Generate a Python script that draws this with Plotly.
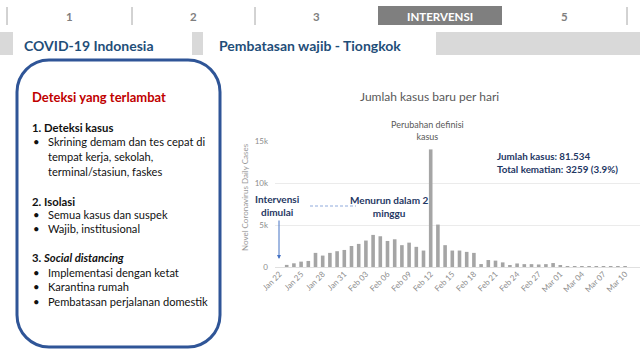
import plotly.graph_objects as go
import pandas as pd

# ---------------- data ----------------
start_date = "2020-01-23"
daily_cases = [250, 440, 640, 720, 1680, 1360, 1680, 1880, 2030, 2500,
               2750, 3150, 3820, 3660, 3100, 3300, 2600, 2900, 2400, 1960,
               14000, 5050, 2600, 1960, 1960, 1800, 1680, 350, 830, 760,
               550, 130, 420, 340, 340, 300, 340, 470, 160, 110,
               100, 110, 110, 80, 40, 40, 20, 20]
dates = pd.date_range(start_date, periods=len(daily_cases), freq="D")
y_tick_vals = [0, 5000, 10000, 15000]
y_tick_text = ["0", "5k", "10k", "15k"]
nav_labels = ["1", "2", "3", "INTERVENSI", "5"]
box_lines = [
    ("<b>1. Deteksi kasus</b>", False),
    ("Skrining demam dan tes cepat di", True),
    ("tempat kerja, sekolah,", None),
    ("terminal/stasiun, faskes", None),
    ("", None),
    ("<b>2. Isolasi</b>", False),
    ("Semua kasus dan suspek", True),
    ("Wajib, institusional", True),
    ("", None),
    ("<b>3. <i>Social distancing</i></b>", False),
    ("Implementasi dengan ketat", True),
    ("Karantina rumah", True),
    ("Pembatasan perjalanan domestik", True),
]

W, H = 640, 360
FONT = "Lato"


def px(x):
    return x / W


def py(y):
    return 1 - y / H


fig = go.Figure()
fig.add_trace(go.Bar(x=dates, y=daily_cases, marker_color="#a5a5a5",
                     marker_line_width=0, hoverinfo="x+y"))

shapes = []
annotations = []

# ---------------- top navigation ----------------
for sx in [7, 132, 255, 627]:
    shapes.append(dict(type="line", xref="paper", yref="paper",
                       x0=px(sx), x1=px(sx), y0=py(7), y1=py(25),
                       line=dict(color="#a6a6a6", width=1)))
shapes.append(dict(type="rect", xref="paper", yref="paper",
                   x0=px(378), x1=px(502), y0=py(25), y1=py(6),
                   fillcolor="#7f7f7f", line=dict(width=0)))
nav_x = [69, 193, 316, 440, 564]
for lab, nx in zip(nav_labels, nav_x):
    active = lab == "INTERVENSI"
    annotations.append(dict(
        xref="paper", yref="paper", x=px(nx), y=py(16.5), showarrow=False,
        xanchor="center", yanchor="middle",
        text=f"<b>{lab}</b>",
        font=dict(family=FONT, size=11.5,
                  color="white" if active else "#7f7f7f")))

# second row band
shapes.append(dict(type="rect", xref="paper", yref="paper",
                   x0=0, x1=1, y0=py(55), y1=py(32),
                   fillcolor="#d9d9d9", line=dict(width=0)))
for x0, x1 in [(13, 192), (203, 436)]:
    shapes.append(dict(type="rect", xref="paper", yref="paper",
                       x0=px(x0), x1=px(x1), y0=py(56), y1=py(32),
                       fillcolor="white", line=dict(width=0)))
annotations.append(dict(xref="paper", yref="paper", x=px(22), y=py(45),
                        showarrow=False, xanchor="left", yanchor="middle",
                        text="<b>COVID-19 Indonesia</b>",
                        font=dict(family=FONT, size=14, color="#1f4e79")))
annotations.append(dict(xref="paper", yref="paper", x=px(217), y=py(45),
                        showarrow=False, xanchor="left", yanchor="middle",
                        text="<b>Pembatasan wajib - Tiongkok</b>",
                        font=dict(family=FONT, size=14, color="#1f4e79")))

# ---------------- rounded box on left ----------------
L, R, T, B, r = 17, 220, 60, 347, 32
k = 0.5523 * r


def P(x, y):
    return f"{px(x):.5f},{py(y):.5f}"


path = (f"M {P(L + r, T)} L {P(R - r, T)} "
        f"C {P(R - r + k, T)} {P(R, T + r - k)} {P(R, T + r)} "
        f"L {P(R, B - r)} "
        f"C {P(R, B - r + k)} {P(R - r + k, B)} {P(R - r, B)} "
        f"L {P(L + r, B)} "
        f"C {P(L + r - k, B)} {P(L, B - r + k)} {P(L, B - r)} "
        f"L {P(L, T + r)} "
        f"C {P(L, T + r - k)} {P(L + r - k, T)} {P(L + r, T)} Z")
shapes.append(dict(type="path", xref="paper", yref="paper", path=path,
                   line=dict(color="#2f5597", width=3), fillcolor="white"))

annotations.append(dict(xref="paper", yref="paper", x=px(30), y=py(97),
                        showarrow=False, xanchor="left", yanchor="middle",
                        text="<b>Deteksi yang terlambat</b>",
                        font=dict(family=FONT, size=13, color="#c00000")))
line_y = [127, 142, 156, 171, 186, 201, 214, 228, 243, 257, 272, 286, 301]
for (txt, bullet), ly in zip(box_lines, line_y):
    if not txt:
        continue
    if bullet is False:
        annotations.append(dict(xref="paper", yref="paper", x=px(30), y=py(ly),
                                showarrow=False, xanchor="left", yanchor="middle",
                                text=txt, font=dict(family=FONT, size=11.3, color="#111111")))
    else:
        if bullet:
            annotations.append(dict(xref="paper", yref="paper", x=px(31), y=py(ly),
                                    showarrow=False, xanchor="left", yanchor="middle",
                                    text="•", font=dict(family=FONT, size=11.3, color="#111111")))
        annotations.append(dict(xref="paper", yref="paper", x=px(46), y=py(ly),
                                showarrow=False, xanchor="left", yanchor="middle",
                                text=txt, font=dict(family=FONT, size=11.1, color="#111111")))

# ---------------- chart annotations ----------------
annotations.append(dict(xref="paper", yref="paper", x=px(429), y=py(97),
                        showarrow=False, xanchor="center", yanchor="middle",
                        text="Jumlah kasus baru per hari",
                        font=dict(family=FONT, size=12, color="#595959")))
annotations.append(dict(xref="paper", yref="paper", x=px(427), y=py(130),
                        showarrow=False, xanchor="center", yanchor="middle",
                        text="Perubahan definisi<br>kasus",
                        font=dict(family=FONT, size=9, color="#595959")))
annotations.append(dict(xref="paper", yref="paper", x=px(245), y=py(197),
                        showarrow=False, xanchor="center", yanchor="middle",
                        textangle=-90, text="Novel Coronavirus Daily Cases",
                        font=dict(family=FONT, size=8, color="#9a9a9a")))
annotations.append(dict(xref="paper", yref="paper", x=px(277), y=py(205.5),
                        showarrow=False, xanchor="center", yanchor="middle",
                        text="<b>Intervensi<br>dimulai</b>",
                        font=dict(family=FONT, size=10, color="#1f3864")))
annotations.append(dict(xref="paper", yref="paper", x=px(389), y=py(207),
                        showarrow=False, xanchor="center", yanchor="middle",
                        text="<b>Menurun dalam 2<br>minggu</b>",
                        font=dict(family=FONT, size=10, color="#1f3864")))
annotations.append(dict(xref="paper", yref="paper", x=px(495), y=py(162.5),
                        showarrow=False, xanchor="left", yanchor="middle", align="left",
                        text="<b>Jumlah kasus: 81.534<br>Total kematian: 3259 (3.9%)</b>",
                        font=dict(family=FONT, size=9.8, color="#1f3864")))
# arrow
annotations.append(dict(xref="paper", yref="paper",
                        x=px(279), y=py(259), ax=0, ay=-40,
                        showarrow=True, arrowhead=2, arrowsize=0.8, arrowwidth=1,
                        arrowcolor="#4472c4", text=""))
shapes.append(dict(type="line", xref="paper", yref="paper",
                   x0=px(310), x1=px(356), y0=py(206), y1=py(206),
                   line=dict(color="#8faadc", width=1, dash="3px,2px")))

fig.update_layout(
    width=W, height=H,
    margin=dict(l=0, r=0, t=0, b=0),
    paper_bgcolor="white", plot_bgcolor="white",
    showlegend=False, bargap=0.5,
    font=dict(family=FONT),
    shapes=shapes, annotations=annotations,
    xaxis=dict(domain=[px(275), 1.0], type="date",
               range=["2020-01-21 09:00", "2020-03-12 01:40"],
               tick0="2020-01-22", dtick=3 * 86400000, tickformat="%b %d",
               tickangle=-45, showgrid=False, showline=False, zeroline=False,
               ticks="", tickfont=dict(family=FONT, size=8, color="#8c8c8c"),
               automargin=False, fixedrange=True),
    yaxis=dict(domain=[py(267), py(141)], range=[0, 15000],
               tickvals=y_tick_vals, ticktext=y_tick_text,
               showgrid=True, gridcolor="#ebebeb", gridwidth=1,
               zeroline=True, zerolinecolor="#e0e0e0", zerolinewidth=1,
               showline=False, ticks="", ticklabelstandoff=6,
               tickfont=dict(family=FONT, size=8, color="#8c8c8c"),
               automargin=False, fixedrange=True),
)

fig.write_html("out.html", config={"displayModeBar": False},
               post_script="document.body.style.margin='0';document.body.style.overflow='hidden';")
